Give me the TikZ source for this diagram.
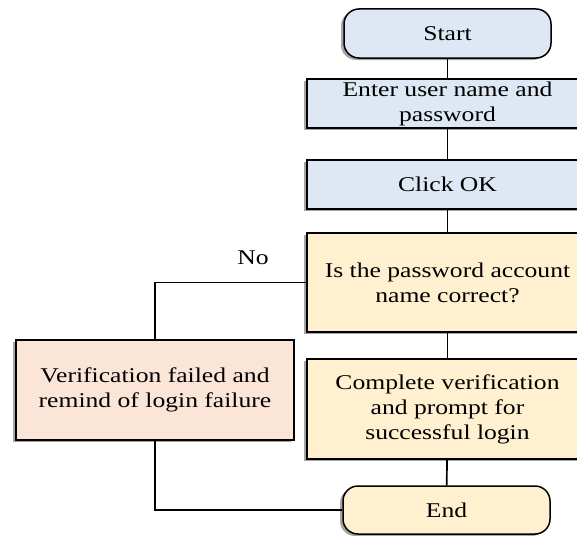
\documentclass[tikz,border=0pt]{standalone}
\usepackage{fontspec}
\setmainfont[FakeStretch=1.22]{Liberation Serif}
\usetikzlibrary{shadows}

\definecolor{boxblue}{HTML}{DDE8F4}
\definecolor{boxyellow}{HTML}{FFF0CF}
\definecolor{boxpink}{HTML}{FBE5D7}

\begin{document}
\begin{tikzpicture}[x=1pt, y=-1pt, line width=1.5pt,
    every node/.style={font=\fontsize{21}{25}\selectfont, align=center, inner sep=0pt},
    shade/.style={drop shadow={shadow xshift=-3pt, shadow yshift=-2pt, opacity=0.35, fill=black}},
    term/.style={draw, shade, rounded corners=15pt, minimum width=207pt, minimum height=49pt},
    proc/.style={draw, shade, minimum width=281pt},
    link/.style={draw, line width=1.7pt}]

    \useasboundingbox (0,0) rectangle (577,535);

    %blocs
    \node[term, fill=boxblue] (start) at (447.5,33.5) {Start};
    \node[proc, fill=boxblue, minimum height=49pt] (enter) at (447.5,103.5) {Enter user name and\\password};
    \node[proc, fill=boxblue, minimum height=49pt] (ok) at (447.5,184.5) {Click OK};
    \node[proc, fill=boxyellow, minimum height=99pt] (check) at (447.5,282.5) {Is the password account\\name correct?};
    \node[proc, fill=boxyellow, minimum height=100pt] (done) at (447.5,409) {Complete verification\\and prompt for\\successful login};
    \node[term, fill=boxyellow, minimum height=48pt] (end) at (446.5,510) {End};
    \node[draw, shade, fill=boxpink, minimum width=278pt, minimum height=100pt] (fail) at (155,390) {Verification failed and\\remind of login failure};

    %liaisons
    \draw[link] (start) -- (enter);
    \draw[link] (enter) -- (ok);
    \draw[link] (ok) -- (check);
    \draw[link] (check) -- (done);
    \draw[link] (done) -- (end);
    \draw[link] (check.west) -| (fail.north);
    \draw[link] (fail.south) |- (end.west);

    %non
    \node (no) at (253,258) {No};

\end{tikzpicture}
\end{document}
